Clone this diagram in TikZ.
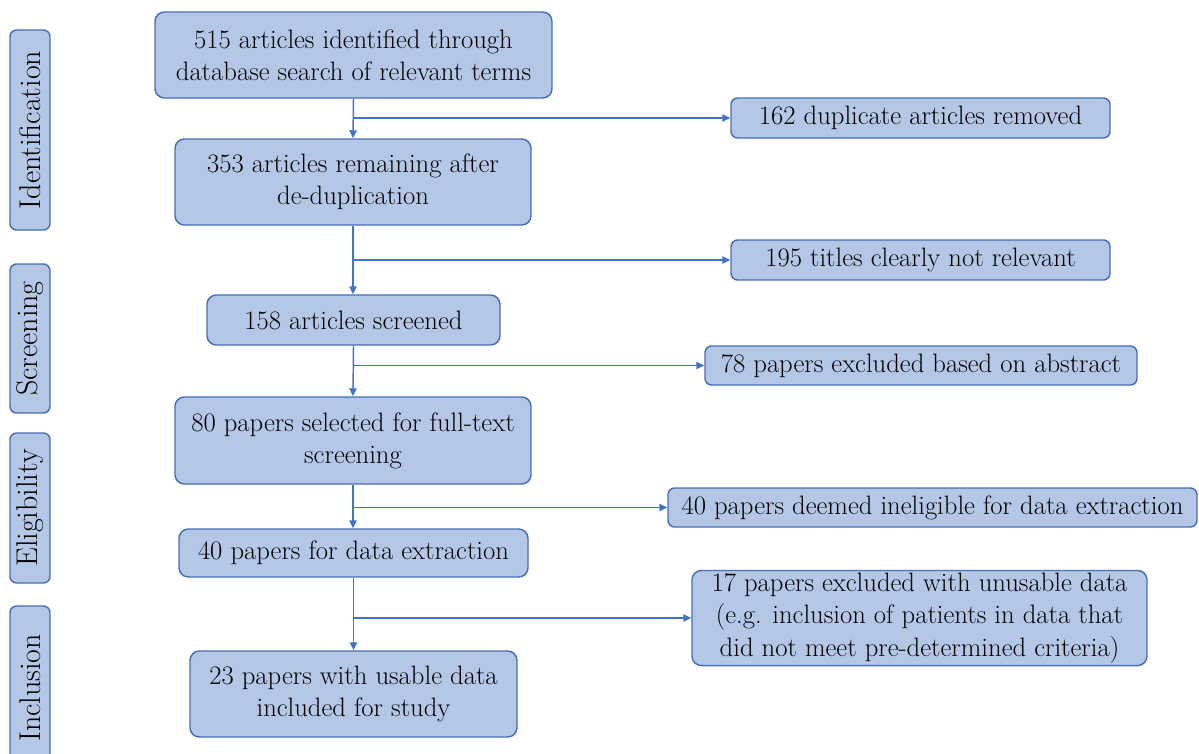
\documentclass[tikz,border=0pt]{standalone}
\usepackage{fontspec}
\usetikzlibrary{arrows.meta}
\definecolor{boxfill}{HTML}{B4C7E7}
\definecolor{boxline}{HTML}{4A6FB5}
\definecolor{arrowc}{HTML}{4472C4}
\tikzset{
  box/.style={draw=boxline, fill=boxfill, line width=1.1pt, rounded corners=7pt, align=center, inner sep=2pt,
    font=\fontsize{20}{24.2}\selectfont},
  sidebox/.style={box, rounded corners=5pt},
  stage/.style={draw=boxline, fill=boxfill, line width=1.1pt, rounded corners=5pt, rotate=90, inner sep=0pt,
    minimum height=30pt, font=\fontsize{22.5}{24}\selectfont},
  flow/.style={draw=arrowc, line width=1.1pt, -{Triangle[length=6pt,width=5.5pt]}}
}
\begin{document}
\begin{tikzpicture}[x=0.75pt,y=-0.75pt]
\useasboundingbox (0,0) rectangle (1199,753);
\begin{scope}
\clip (0,0) rectangle (1199,753);
% stage labels
\node[stage, minimum width=150pt] (sid) at (30,130) {Identification};
\node[stage, minimum width=111.75pt] (sscr) at (30,338.5) {Screening};
\node[stage, minimum width=112.5pt] (selig) at (30,508) {Eligibility};
\node[stage, minimum width=123pt] (sinc) at (30,688) {Inclusion};
\end{scope}
% main boxes
\node[box, minimum width=297.75pt, minimum height=64.5pt] (b1) at (353.5,55) {515 articles identified through\\database search of relevant terms};
\node[box, minimum width=267pt, minimum height=64.5pt] (b2) at (353,182) {353 articles remaining after\\de-duplication};
\node[box, minimum width=219.75pt, minimum height=37.5pt] (b3) at (353.5,320) {158 articles screened};
\node[box, minimum width=267pt, minimum height=65.25pt] (b4) at (353,440.5) {80 papers selected for full-text\\screening};
\node[box, minimum width=261.75pt, minimum height=36pt] (b5) at (353.5,553) {40 papers for data extraction};
\node[box, minimum width=245.25pt, minimum height=64.5pt] (b6) at (353.5,694) {23 papers with usable data\\included for study};
% side boxes
\node[sidebox, minimum width=284.25pt, minimum height=30pt] (sa) at (920.5,118) {162 duplicate articles removed};
\node[sidebox, minimum width=284.25pt, minimum height=30pt] (sb) at (920.5,260) {195 titles clearly not relevant};
\node[sidebox, minimum width=324pt, minimum height=29.25pt] (sc) at (921,365.5) {78 papers excluded based on abstract};
\node[sidebox, minimum width=396.75pt, minimum height=29.25pt] (sd) at (932.5,507.5) {40 papers deemed ineligible for data extraction};
\node[sidebox, minimum width=341.25pt, minimum height=69pt, rounded corners=7pt] (se) at (919.5,618) {17 papers excluded with unusable data\\(e.g. inclusion of patients in data that\\did not meet pre-determined criteria)};
% branch points
\coordinate (ja) at (b1.south |- sa.west);
\coordinate (jb) at (b2.south |- sb.west);
\coordinate (jc) at (b3.south |- sc.west);
\coordinate (jd) at (b4.south |- sd.west);
\coordinate (je) at (b5.south |- se.west);
% vertical flow
\draw[flow] (b1.south) -- (b2.north);
\draw[flow] (b2.south) -- (b2.south |- b3.north);
\draw[flow] (b3.south) -- (b4.north);
\draw[flow] (b4.south) -- (b4.south |- b5.north);
\draw[flow] (b5.south) -- (b5.south |- b6.north);
% side branches
\draw[flow] (ja) -- (sa.west);
\draw[flow] (jb) -- (sb.west);
\draw[flow] (jc) -- (sc.west);
\draw[flow] (jd) -- (sd.west);
\draw[flow] (je) -- (se.west);
\end{tikzpicture}
\end{document}
